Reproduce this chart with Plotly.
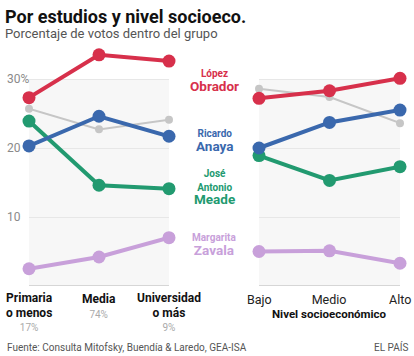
import plotly.graph_objects as go

# ---- data ----
edu_x = [0, 1, 2]
edu_line1 = ["Primaria", "Media", "Universidad"]
edu_line2 = ["o menos", "", "o más"]
edu_share = ["17%", "74%", "9%"]
ses_x = [0, 1, 2]
ses_labels = ["Bajo", "Medio", "Alto"]
ses_title = "Nivel socioeconómico"

lopez_edu = [27.3, 33.5, 32.6]
anaya_edu = [20.3, 24.6, 21.7]
meade_edu = [23.9, 14.6, 14.1]
zavala_edu = [2.5, 4.2, 7.0]
otros_edu = [25.7, 22.7, 24.1]

lopez_ses = [27.2, 28.3, 30.1]
anaya_ses = [20.0, 23.7, 25.5]
meade_ses = [18.9, 15.3, 17.3]
zavala_ses = [5.0, 5.1, 3.3]
otros_ses = [28.6, 27.4, 23.6]

y_ticks = [10, 20, 30]
y_tick_labels = ["10", "20", "30%"]

RED = "#d7304b"
BLUE = "#3a68ad"
GREEN = "#229a70"
PURPLE = "#c8a0da"
GRAY = "#c6c6c6"

FONT = "Roboto, sans-serif"

W, H = 414, 356
ML, MR, MT, MB = 29, 14, 50, 70
PW = W - ML - MR
PH = H - MT - MB

def px_x(px):
    return (px - ML) / PW

def px_y(py):
    return (H - MB - py) / PH

fig = go.Figure()

series = [
    (otros_edu, otros_ses, GRAY, 2, 8),
    (meade_edu, meade_ses, GREEN, 4, 13),
    (zavala_edu, zavala_ses, PURPLE, 4, 13),
    (anaya_edu, anaya_ses, BLUE, 4, 13),
    (lopez_edu, lopez_ses, RED, 4, 13),
]
for e, s, c, lw, ms in series:
    fig.add_trace(go.Scatter(x=edu_x, y=e, mode="lines+markers", xaxis="x", yaxis="y",
                             line=dict(color=c, width=lw), marker=dict(color=c, size=ms),
                             cliponaxis=False, hoverinfo="skip", showlegend=False))
    fig.add_trace(go.Scatter(x=ses_x, y=s, mode="lines+markers", xaxis="x2", yaxis="y2",
                             line=dict(color=c, width=lw), marker=dict(color=c, size=ms),
                             cliponaxis=False, hoverinfo="skip", showlegend=False))

ymax = PH / 6.9
left_dom = [0, px_x(169)]
right_dom = [px_x(259), 1]

axcommon = dict(range=[0, 2], showgrid=False, zeroline=False, showticklabels=False,
                ticks="", fixedrange=True)
ycommon = dict(range=[0, ymax], tickvals=y_ticks, showgrid=True, gridcolor="#e7e7e7",
               gridwidth=1, zeroline=False, showticklabels=False, ticks="",
               showline=False, fixedrange=True)

fig.update_layout(
    width=W, height=H,
    margin=dict(l=ML, r=MR, t=MT, b=MB),
    paper_bgcolor="white", plot_bgcolor="rgba(0,0,0,0)",
    xaxis=dict(domain=left_dom, **axcommon),
    xaxis2=dict(domain=right_dom, **axcommon),
    yaxis=dict(anchor="x", **ycommon),
    yaxis2=dict(anchor="x2", **ycommon),
)

# background panels and baseline
for xr, yr in [("x", "y"), ("x2", "y2")]:
    fig.add_shape(type="rect", xref=xr, yref=yr, x0=0, x1=2, y0=0, y1=30,
                  fillcolor="#f7f7f7", line=dict(width=0), layer="below")
    fig.add_shape(type="line", xref=xr, yref=yr, x0=0, x1=2, y0=0, y1=0,
                  line=dict(color="#b5b5b5", width=1.2), layer="above")

ann = []

def span(text, size, color, bold=False):
    t = ("<b>" + text + "</b>") if bold else text
    return "<span style='font-size:%spx;color:%s'>%s</span>" % (size, color, t)

def block(x, xref, py, lines, spacing, color, xanchor="center"):
    ann.append(dict(x=x, xref=xref, y=px_y(py), yref="paper",
                    text="<br>".join(lines), showarrow=False,
                    xanchor=xanchor, yanchor="middle", align="center", borderpad=0,
                    font=dict(family=FONT, size=spacing / 1.3, color=color)))

def txt(x, xref, py, text, size, color, bold=False, xanchor="center"):
    ann.append(dict(x=x, xref=xref, y=px_y(py), yref="paper",
                    text=("<b>" + text + "</b>") if bold else text,
                    showarrow=False, xanchor=xanchor, yanchor="middle", borderpad=0,
                    font=dict(family=FONT, size=size, color=color)))

# y tick labels
for v, t in zip(y_ticks, y_tick_labels):
    ann.append(dict(x=px_x(5), xref="paper", y=v, yref="y", text=t, showarrow=False,
                    xanchor="left", yanchor="middle",
                    font=dict(family=FONT, size=12, color="#8a8a8a")))

# x labels left
for xv, l1, l2, sh in zip(edu_x, edu_line1, edu_line2, edu_share):
    lines = [span(l1, 12, "#111111", True)]
    if l2:
        lines.append(span(l2, 12, "#111111", True))
    lines.append(span(sh, 10, "#aaaaaa"))
    center = 311.5 if len(lines) == 3 else 305.5
    block(xv, "x", center, lines, 14.5, "#111111")

# x labels right
for xv, t in zip(ses_x, ses_labels):
    if xv == 1:
        block(xv, "x2", 306, [span(t, 12.5, "#222222"), span(ses_title, 11.5, "#111111", True)],
              13.5, "#222222")
    else:
        txt(xv, "x2", 299.5, t, 12.5, "#222222")

# candidate labels (block centres)
cands = [
    (["López"], "Obrador", RED, 81),
    (["Ricardo"], "Anaya", BLUE, 140.5),
    (["José", "Antonio"], "Meade", GREEN, 187),
    (["Margarita"], "Zavala", PURPLE, 245),
]
for firsts, last, c, yc in cands:
    lines = [span(f, 10, c, True) for f in firsts] + [span(last, 13.5, c, True)]
    block(px_x(214), "paper", yc, lines, 13.5, c)

# title, subtitle, footer
txt(px_x(4), "paper", 17, "Por estudios y nivel socioeco.", 18, "#111111", bold=True, xanchor="left")
txt(px_x(4), "paper", 34, "Porcentaje de votos dentro del grupo", 13, "#555555", xanchor="left")
txt(px_x(6), "paper", 347, "Fuente: Consulta Mitofsky, Buendía & Laredo, GEA-ISA", 10, "#555555", xanchor="left")
txt(px_x(409), "paper", 347, "EL PAÍS", 10, "#555555", xanchor="right")

fig.update_layout(annotations=ann)
fig.write_html("out.html", config={"displayModeBar": False},
               post_script="document.body.style.margin='0';document.body.style.overflow='hidden';")
